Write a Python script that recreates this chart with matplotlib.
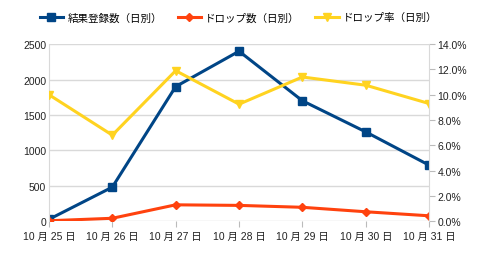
import matplotlib
matplotlib.use("Agg")
import matplotlib.pyplot as plt
from matplotlib.ticker import FuncFormatter

plt.rcParams['font.family'] = ['Liberation Sans', 'Noto Sans CJK JP', 'DejaVu Sans']

# data
days = ["10 月 25 日", "10 月 26 日", "10 月 27 日", "10 月 28 日",
        "10 月 29 日", "10 月 30 日", "10 月 31 日"]
registrations = [25, 480, 1900, 2400, 1700, 1260, 790]
drops = [5, 40, 230, 222, 195, 132, 75]
drop_rate = [10.0, 6.8, 11.9, 9.25, 11.4, 10.75, 9.3]

blue = "#004586"
red = "#ff420e"
yellow = "#ffd320"
grid_c = "#d9d9d9"

fig = plt.figure(figsize=(4.8, 2.55), dpi=100)
ax = fig.add_axes([0.102, 0.129, 0.792, 0.694])
ax2 = ax.twinx()

x = list(range(len(days)))
l1, = ax.plot(x, registrations, color=blue, lw=2.2, marker="s", ms=5.5, label="結果登録数（日別）")
l2, = ax.plot(x, drops, color=red, lw=2.2, marker="D", ms=4, label="ドロップ数（日別）")
l3, = ax2.plot(x, drop_rate, color=yellow, lw=2.2, marker="v", ms=6, label="ドロップ率（日別）")

ax.set_xlim(0, len(days) - 1)
ax.set_ylim(0, 2500)
ax.set_yticks(range(0, 2501, 500))
ax2.set_ylim(0, 14)
ax2.set_yticks(range(0, 15, 2))
ax2.yaxis.set_major_formatter(FuncFormatter(lambda v, p: f"{v:.1f}%"))

ax.set_xticks(x)
ax.set_xticklabels(days)
ax.grid(axis="y", color=grid_c, lw=1)
ax.set_axisbelow(True)

for a in (ax, ax2):
    for s in a.spines.values():
        s.set_visible(False)
    a.tick_params(labelsize=7.5, colors="#222222", length=0, pad=2)
ax.spines["left"].set_visible(True)
ax.spines["left"].set_color(grid_c)
ax2.spines["right"].set_visible(True)
ax2.spines["right"].set_color(grid_c)
ax2.tick_params(axis="y", length=4, color="#bbbbbb", pad=2)
ax.tick_params(axis="x", length=4, color="#bbbbbb", direction="out", pad=3)
ax2.tick_params(axis="y", labelcolor="#222222")

fig.legend(handles=[l1, l2, l3], loc="center", bbox_to_anchor=(0.497, 0.928),
           ncol=3, frameon=False, fontsize=7.6, handlelength=2.2, columnspacing=1.5,
           handletextpad=0.4)

fig.savefig("out.png", dpi=100)
